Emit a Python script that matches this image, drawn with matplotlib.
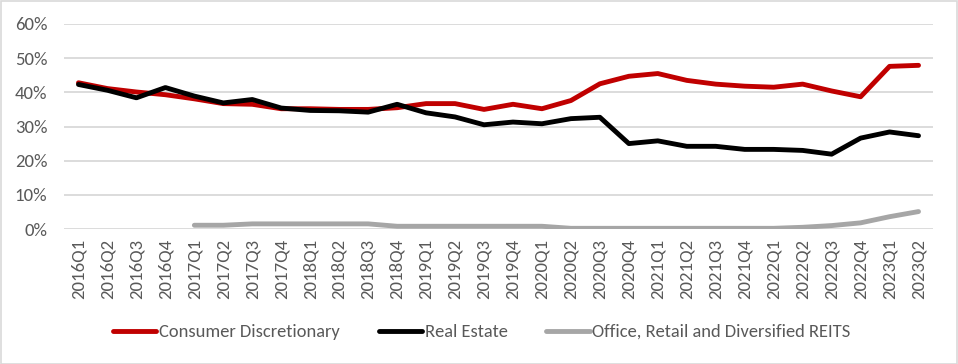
import matplotlib
matplotlib.use("Agg")
import matplotlib.pyplot as plt
from matplotlib.patches import Rectangle
import numpy as np

plt.rcParams['font.family'] = ['Carlito', 'DejaVu Sans']

quarters = [f"{y}Q{q}" for y in range(2016, 2024) for q in range(1, 5)][:30]

consumer_disc = [42.8, 41.1, 40.1, 39.3, 38.1, 36.7, 36.5, 35.2, 35.2, 35.0,
                 35.0, 35.5, 36.7, 36.7, 35.0, 36.5, 35.2, 37.6, 42.5, 44.7,
                 45.5, 43.5, 42.4, 41.8, 41.5, 42.4, 40.4, 38.7, 47.6, 47.9]
real_estate = [42.3, 40.6, 38.4, 41.4, 38.9, 36.9, 37.9, 35.4, 34.7, 34.6,
               34.2, 36.5, 34.0, 32.8, 30.5, 31.3, 30.8, 32.3, 32.7, 25.0,
               25.8, 24.2, 24.2, 23.3, 23.3, 23.0, 21.9, 26.6, 28.4, 27.3]
reits = [None, None, None, None, 1.1, 1.1, 1.5, 1.5, 1.5, 1.5,
         1.5, 0.8, 0.8, 0.8, 0.8, 0.8, 0.8, 0.2, 0.2, 0.2,
         0.2, 0.2, 0.2, 0.2, 0.2, 0.5, 1.0, 1.8, 3.6, 5.1]

series_names = ["Consumer Discretionary", "Real Estate", "Office, Retail and Diversified REITS"]
colors = ["#c00000", "#000000", "#a6a6a6"]

W, H = 958, 364
fig = plt.figure(figsize=(W/100, H/100), dpi=100)
ax = fig.add_axes([64/W, 1 - 229/H, (933-64)/W, (229-24)/H])

x = np.arange(len(quarters))
data = [consumer_disc, real_estate, reits]
for vals, name, c in zip(data, series_names, colors):
    y = np.array([np.nan if v is None else v for v in vals], dtype=float)
    ax.plot(x, y, color=c, lw=3.5, label=name, solid_capstyle='round',
            solid_joinstyle='round', zorder=3)

ax.set_xlim(-0.5, len(quarters) - 0.5)
ax.set_ylim(0, 60)
ax.set_yticks(np.arange(0, 61, 10))
ax.set_yticklabels([f"{v}%" for v in range(0, 61, 10)])
ax.set_xticks(x)
ax.set_xticklabels(quarters, rotation=90)
ax.grid(axis='y', color='#d9d9d9', lw=1.3, zorder=0)
ax.set_axisbelow(True)
for s in ax.spines.values():
    s.set_visible(False)
ax.tick_params(axis='both', length=0, colors='#595959', labelsize=13.5)
ax.tick_params(axis='y', pad=12)
ax.tick_params(axis='x', pad=7)

leg = fig.legend(loc='center', bbox_to_anchor=(482/W, 1 - 332/H), ncol=3, frameon=False,
                 fontsize=13.3, handlelength=2.33, columnspacing=2.1, handletextpad=0.16)
for t in leg.get_texts():
    t.set_color('#595959')

fig.patches.append(Rectangle((0.5/W, 0.5/H), 1 - 1.5/W, 1 - 1.5/H, transform=fig.transFigure,
                             fill=False, edgecolor='#d9d9d9', lw=1.2))

fig.savefig("out.png", dpi=100, facecolor='white')
